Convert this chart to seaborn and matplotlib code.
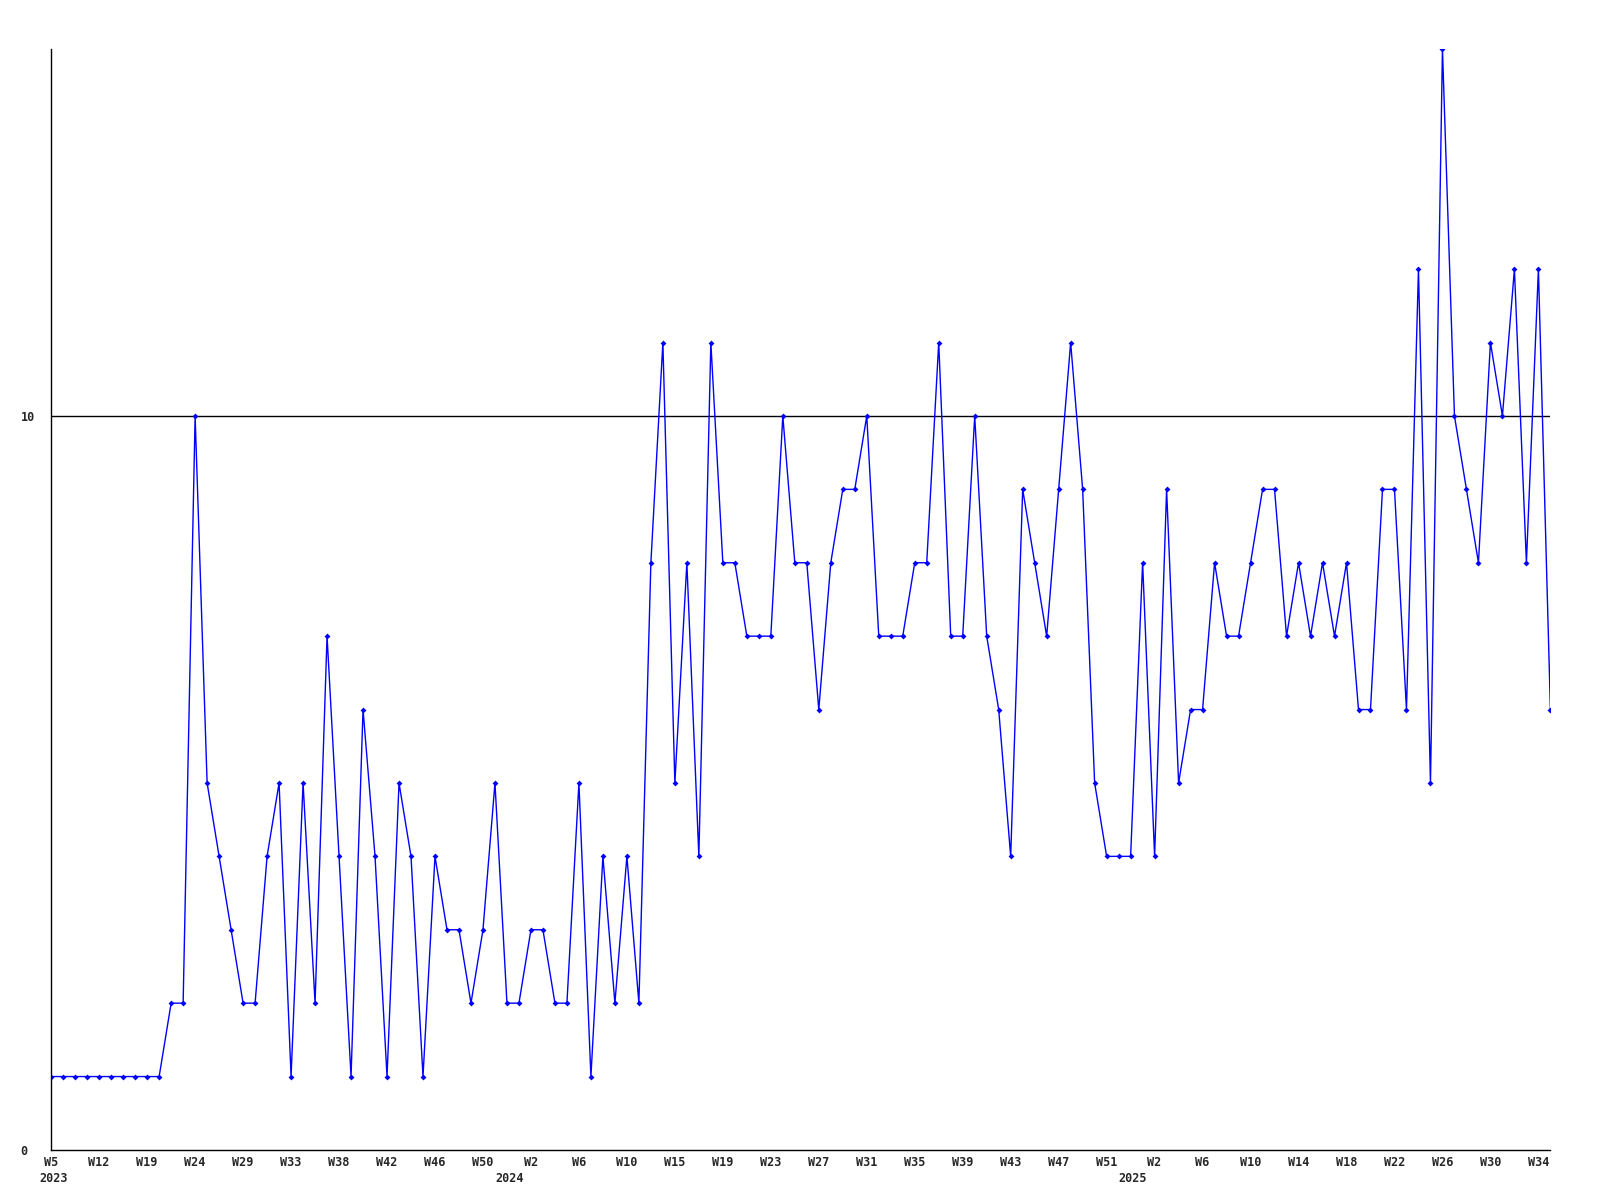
import numpy as np
import pandas as pd
import matplotlib
matplotlib.use('Agg')
import matplotlib.pyplot as plt
import seaborn as sns

# weekly counts
counts = [1, 1, 1, 1, 1, 1, 1, 1, 1, 1,
          2, 2, 10, 5, 4, 3, 2, 2, 4, 5,
          1, 5, 2, 7, 4, 1, 6, 4, 1, 5,
          4, 1, 4, 3, 3, 2, 3, 5, 2, 2,
          3, 3, 2, 2, 5, 1, 4, 2, 4, 2,
          8, 11, 5, 8, 4, 11, 8, 8, 7, 7,
          7, 10, 8, 8, 6, 8, 9, 9, 10, 7,
          7, 7, 8, 8, 11, 7, 7, 10, 7, 6,
          4, 9, 8, 7, 9, 11, 9, 5, 4, 4,
          4, 8, 4, 9, 5, 6, 6, 8, 7, 7,
          8, 9, 9, 7, 8, 7, 8, 7, 8, 6,
          6, 9, 9, 6, 12, 5, 15, 10, 9, 8,
          11, 10, 12, 8, 12, 6]

week_labels = ['W5', 'W12', 'W19', 'W24', 'W29', 'W33', 'W38', 'W42',
               'W46', 'W50', 'W2', 'W6', 'W10', 'W15', 'W19', 'W23',
               'W27', 'W31', 'W35', 'W39', 'W43', 'W47', 'W51', 'W2',
               'W6', 'W10', 'W14', 'W18', 'W22', 'W26', 'W30', 'W34']
years = ['2023', '2024', '2025']
year_pos = [0.2, 38.2, 90.2]

df = pd.DataFrame({'idx': np.arange(len(counts)), 'count': counts})

sns.set_style('white')
plt.rcParams['font.family'] = ['DejaVu Sans Mono']
plt.rcParams['font.weight'] = 'bold'

fig = plt.figure(figsize=(16, 12), dpi=100)
ax = fig.add_axes([0.032, 0.0417, 0.937, 0.9175])

ax.axhline(10, color='black', linewidth=1, zorder=1)
sns.lineplot(data=df, x='idx', y='count', ax=ax, color='#0000ff',
             linewidth=1, marker='D', markersize=3, markeredgewidth=0, zorder=2)

ax.set_xlim(0, len(counts) - 1)
ax.set_ylim(0, 15)
ax.set_xticks(np.arange(0, len(counts), 4)[:len(week_labels)])
ax.set_xticklabels(week_labels, fontsize=8.5, fontweight='bold')
ax.set_yticks([0, 10])
ax.set_yticklabels(['0', '10'], fontsize=8.5, fontweight='bold', ha='left')
ax.tick_params(axis='x', length=0, pad=4)
ax.tick_params(axis='y', length=0, pad=22)

# year under the first week of each year
for yr, pos in zip(years, year_pos):
    ax.text(pos, -0.3, yr, ha='center', va='top', fontsize=8.5, fontweight='bold')

for s in ['top', 'right']:
    ax.spines[s].set_visible(False)
for s in ['left', 'bottom']:
    ax.spines[s].set_color('black')
    ax.spines[s].set_linewidth(1)

ax.set_xlabel('')
ax.set_ylabel('')
fig.savefig('out.png', dpi=100)
